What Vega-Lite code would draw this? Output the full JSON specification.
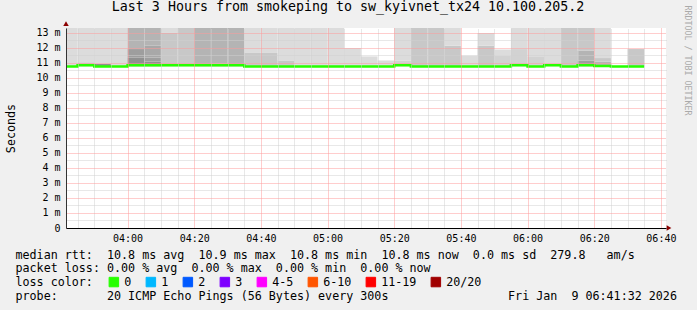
{
  "$schema": "https://vega.github.io/schema/vega-lite/v6.json",
  "width": 600,
  "height": 200,
  "autosize": {"type": "none"},
  "padding": {"left": 66, "top": 28, "right": 31, "bottom": 82},
  "background": "#f0f0f0",
  "title": {
    "text": "Last 3 Hours from smokeping to sw_kyivnet_tx24 10.100.205.2",
    "font": "DejaVu Sans Mono", "fontSize": 13.3, "fontWeight": "normal", "color": "#000000",
    "anchor": "middle", "frame": "group", "dx": -18, "dy": 23, "baseline": "alphabetic", "offset": 4
  },
  "datasets": {
    "smoke": [
      {"s":"2026-01-09T03:40","e":"2026-01-09T03:45","lo":10.78,"hi":13.5,"g":1},
      {"s":"2026-01-09T03:45","e":"2026-01-09T03:50","lo":10.78,"hi":11.05,"g":3},
      {"s":"2026-01-09T03:45","e":"2026-01-09T03:50","lo":11.05,"hi":13.5,"g":1},
      {"s":"2026-01-09T03:50","e":"2026-01-09T03:55","lo":10.78,"hi":10.95,"g":7},
      {"s":"2026-01-09T03:50","e":"2026-01-09T03:55","lo":10.95,"hi":13.5,"g":1},
      {"s":"2026-01-09T03:55","e":"2026-01-09T04:00","lo":10.78,"hi":13.5,"g":1},
      {"s":"2026-01-09T04:00","e":"2026-01-09T04:05","lo":10.78,"hi":11.37,"g":7},
      {"s":"2026-01-09T04:00","e":"2026-01-09T04:05","lo":11.37,"hi":11.93,"g":6},
      {"s":"2026-01-09T04:00","e":"2026-01-09T04:05","lo":11.93,"hi":13.5,"g":4},
      {"s":"2026-01-09T04:05","e":"2026-01-09T04:10","lo":10.78,"hi":11.1,"g":7},
      {"s":"2026-01-09T04:05","e":"2026-01-09T04:10","lo":11.1,"hi":11.37,"g":6},
      {"s":"2026-01-09T04:05","e":"2026-01-09T04:10","lo":11.37,"hi":12.15,"g":5},
      {"s":"2026-01-09T04:05","e":"2026-01-09T04:10","lo":12.15,"hi":13.5,"g":4},
      {"s":"2026-01-09T04:10","e":"2026-01-09T04:15","lo":10.78,"hi":13.04,"g":3},
      {"s":"2026-01-09T04:10","e":"2026-01-09T04:15","lo":13.04,"hi":13.5,"g":1},
      {"s":"2026-01-09T04:15","e":"2026-01-09T04:20","lo":10.78,"hi":13.5,"g":3},
      {"s":"2026-01-09T04:20","e":"2026-01-09T04:25","lo":10.78,"hi":13.5,"g":4},
      {"s":"2026-01-09T04:25","e":"2026-01-09T04:30","lo":10.78,"hi":10.95,"g":5},
      {"s":"2026-01-09T04:25","e":"2026-01-09T04:30","lo":10.95,"hi":13.5,"g":4},
      {"s":"2026-01-09T04:30","e":"2026-01-09T04:35","lo":10.78,"hi":13.5,"g":4},
      {"s":"2026-01-09T04:35","e":"2026-01-09T04:40","lo":10.78,"hi":11.67,"g":3},
      {"s":"2026-01-09T04:35","e":"2026-01-09T04:40","lo":11.67,"hi":13.5,"g":1},
      {"s":"2026-01-09T04:40","e":"2026-01-09T04:45","lo":10.78,"hi":11.67,"g":3},
      {"s":"2026-01-09T04:40","e":"2026-01-09T04:45","lo":11.67,"hi":13.5,"g":1},
      {"s":"2026-01-09T04:45","e":"2026-01-09T04:50","lo":10.78,"hi":11.17,"g":3},
      {"s":"2026-01-09T04:45","e":"2026-01-09T04:50","lo":11.17,"hi":13.5,"g":1},
      {"s":"2026-01-09T04:50","e":"2026-01-09T04:55","lo":10.78,"hi":13.5,"g":1},
      {"s":"2026-01-09T04:55","e":"2026-01-09T05:00","lo":10.78,"hi":13.5,"g":1},
      {"s":"2026-01-09T05:00","e":"2026-01-09T05:05","lo":10.78,"hi":13.5,"g":1},
      {"s":"2026-01-09T05:05","e":"2026-01-09T05:10","lo":10.78,"hi":12.0,"g":1},
      {"s":"2026-01-09T05:10","e":"2026-01-09T05:15","lo":10.78,"hi":11.44,"g":1},
      {"s":"2026-01-09T05:15","e":"2026-01-09T05:20","lo":10.78,"hi":11.17,"g":1},
      {"s":"2026-01-09T05:20","e":"2026-01-09T05:25","lo":10.78,"hi":11.17,"g":2},
      {"s":"2026-01-09T05:20","e":"2026-01-09T05:25","lo":11.17,"hi":13.5,"g":1},
      {"s":"2026-01-09T05:25","e":"2026-01-09T05:30","lo":10.78,"hi":13.5,"g":3},
      {"s":"2026-01-09T05:30","e":"2026-01-09T05:35","lo":10.78,"hi":13.5,"g":3},
      {"s":"2026-01-09T05:35","e":"2026-01-09T05:40","lo":10.78,"hi":12.15,"g":3},
      {"s":"2026-01-09T05:35","e":"2026-01-09T05:40","lo":12.15,"hi":13.5,"g":1},
      {"s":"2026-01-09T05:40","e":"2026-01-09T05:45","lo":10.78,"hi":11.48,"g":1},
      {"s":"2026-01-09T05:45","e":"2026-01-09T05:50","lo":10.78,"hi":12.15,"g":3},
      {"s":"2026-01-09T05:45","e":"2026-01-09T05:50","lo":12.15,"hi":13.0,"g":1},
      {"s":"2026-01-09T05:50","e":"2026-01-09T05:55","lo":10.78,"hi":11.48,"g":2},
      {"s":"2026-01-09T05:50","e":"2026-01-09T05:55","lo":11.48,"hi":11.9,"g":1},
      {"s":"2026-01-09T05:55","e":"2026-01-09T06:00","lo":10.78,"hi":11.93,"g":2},
      {"s":"2026-01-09T05:55","e":"2026-01-09T06:00","lo":11.93,"hi":13.5,"g":1},
      {"s":"2026-01-09T06:00","e":"2026-01-09T06:05","lo":10.78,"hi":11.4,"g":2},
      {"s":"2026-01-09T06:00","e":"2026-01-09T06:05","lo":11.4,"hi":13.5,"g":1},
      {"s":"2026-01-09T06:05","e":"2026-01-09T06:10","lo":10.78,"hi":13.5,"g":1},
      {"s":"2026-01-09T06:10","e":"2026-01-09T06:15","lo":10.78,"hi":13.5,"g":3},
      {"s":"2026-01-09T06:15","e":"2026-01-09T06:20","lo":10.78,"hi":11.17,"g":6},
      {"s":"2026-01-09T06:15","e":"2026-01-09T06:20","lo":11.17,"hi":11.84,"g":4},
      {"s":"2026-01-09T06:15","e":"2026-01-09T06:20","lo":11.84,"hi":13.5,"g":3},
      {"s":"2026-01-09T06:20","e":"2026-01-09T06:25","lo":10.78,"hi":11.1,"g":4},
      {"s":"2026-01-09T06:20","e":"2026-01-09T06:25","lo":11.1,"hi":11.33,"g":3},
      {"s":"2026-01-09T06:20","e":"2026-01-09T06:25","lo":11.33,"hi":13.5,"g":1},
      {"s":"2026-01-09T06:30","e":"2026-01-09T06:35","lo":10.78,"hi":11.93,"g":3}
    ],
    "median": [
      {"s":"2026-01-09T03:40","e":"2026-01-09T03:45","m":10.77,"loss":"0"},
      {"s":"2026-01-09T03:45","e":"2026-01-09T03:50","m":10.85,"loss":"0"},
      {"s":"2026-01-09T03:50","e":"2026-01-09T03:55","m":10.77,"loss":"0"},
      {"s":"2026-01-09T03:55","e":"2026-01-09T04:00","m":10.77,"loss":"0"},
      {"s":"2026-01-09T04:00","e":"2026-01-09T04:05","m":10.85,"loss":"0"},
      {"s":"2026-01-09T04:05","e":"2026-01-09T04:10","m":10.85,"loss":"0"},
      {"s":"2026-01-09T04:10","e":"2026-01-09T04:15","m":10.85,"loss":"0"},
      {"s":"2026-01-09T04:15","e":"2026-01-09T04:20","m":10.85,"loss":"0"},
      {"s":"2026-01-09T04:20","e":"2026-01-09T04:25","m":10.85,"loss":"0"},
      {"s":"2026-01-09T04:25","e":"2026-01-09T04:30","m":10.85,"loss":"0"},
      {"s":"2026-01-09T04:30","e":"2026-01-09T04:35","m":10.85,"loss":"0"},
      {"s":"2026-01-09T04:35","e":"2026-01-09T04:40","m":10.77,"loss":"0"},
      {"s":"2026-01-09T04:40","e":"2026-01-09T04:45","m":10.77,"loss":"0"},
      {"s":"2026-01-09T04:45","e":"2026-01-09T04:50","m":10.77,"loss":"0"},
      {"s":"2026-01-09T04:50","e":"2026-01-09T04:55","m":10.77,"loss":"0"},
      {"s":"2026-01-09T04:55","e":"2026-01-09T05:00","m":10.77,"loss":"0"},
      {"s":"2026-01-09T05:00","e":"2026-01-09T05:05","m":10.77,"loss":"0"},
      {"s":"2026-01-09T05:05","e":"2026-01-09T05:10","m":10.77,"loss":"0"},
      {"s":"2026-01-09T05:10","e":"2026-01-09T05:15","m":10.77,"loss":"0"},
      {"s":"2026-01-09T05:15","e":"2026-01-09T05:20","m":10.77,"loss":"0"},
      {"s":"2026-01-09T05:20","e":"2026-01-09T05:25","m":10.85,"loss":"0"},
      {"s":"2026-01-09T05:25","e":"2026-01-09T05:30","m":10.77,"loss":"0"},
      {"s":"2026-01-09T05:30","e":"2026-01-09T05:35","m":10.77,"loss":"0"},
      {"s":"2026-01-09T05:35","e":"2026-01-09T05:40","m":10.77,"loss":"0"},
      {"s":"2026-01-09T05:40","e":"2026-01-09T05:45","m":10.77,"loss":"0"},
      {"s":"2026-01-09T05:45","e":"2026-01-09T05:50","m":10.77,"loss":"0"},
      {"s":"2026-01-09T05:50","e":"2026-01-09T05:55","m":10.77,"loss":"0"},
      {"s":"2026-01-09T05:55","e":"2026-01-09T06:00","m":10.85,"loss":"0"},
      {"s":"2026-01-09T06:00","e":"2026-01-09T06:05","m":10.77,"loss":"0"},
      {"s":"2026-01-09T06:05","e":"2026-01-09T06:10","m":10.85,"loss":"0"},
      {"s":"2026-01-09T06:10","e":"2026-01-09T06:15","m":10.77,"loss":"0"},
      {"s":"2026-01-09T06:15","e":"2026-01-09T06:20","m":10.85,"loss":"0"},
      {"s":"2026-01-09T06:20","e":"2026-01-09T06:25","m":10.8,"loss":"0"},
      {"s":"2026-01-09T06:25","e":"2026-01-09T06:30","m":10.77,"loss":"0"},
      {"s":"2026-01-09T06:30","e":"2026-01-09T06:35","m":10.77,"loss":"0"}
    ]
  },
  "resolve": {"axis": {"x": "independent", "y": "independent"}},
  "layer": [
    {
      "data": {"name": "smoke"},
      "mark": {"type": "rect", "clip": true},
      "encoding": {
        "x": {
          "field": "s", "type": "temporal",
          "scale": {
            "domain": [
              {"year": 2026, "month": 1, "date": 9, "hours": 3, "minutes": 41, "seconds": 32},
              {"year": 2026, "month": 1, "date": 9, "hours": 6, "minutes": 41, "seconds": 32}
            ],
            "nice": false
          },
          "axis": {
            "orient": "bottom",
            "values": [
              {"year": 2026, "month": 1, "date": 9, "hours": 4, "minutes": 0},
              {"year": 2026, "month": 1, "date": 9, "hours": 4, "minutes": 20},
              {"year": 2026, "month": 1, "date": 9, "hours": 4, "minutes": 40},
              {"year": 2026, "month": 1, "date": 9, "hours": 5, "minutes": 0},
              {"year": 2026, "month": 1, "date": 9, "hours": 5, "minutes": 20},
              {"year": 2026, "month": 1, "date": 9, "hours": 5, "minutes": 40},
              {"year": 2026, "month": 1, "date": 9, "hours": 6, "minutes": 0},
              {"year": 2026, "month": 1, "date": 9, "hours": 6, "minutes": 20},
              {"year": 2026, "month": 1, "date": 9, "hours": 6, "minutes": 40}
            ],
            "format": "%H:%M",
            "grid": true, "gridColor": "#ff9a9a", "gridDash": [1, 1],
            "ticks": false, "labelPadding": 5, "labelFlush": false, "labelOverlap": false,
            "domain": true, "domainColor": "#000000",
            "zindex": 2,
            "title": [
              "median\u00a0rtt:\u00a0\u00a010.8\u00a0ms\u00a0avg\u00a0\u00a010.9\u00a0ms\u00a0max\u00a0\u00a010.8\u00a0ms\u00a0min\u00a0\u00a010.8\u00a0ms\u00a0now\u00a0\u00a00.0\u00a0ms\u00a0sd\u00a0\u00a0279.8\u00a0\u00a0\u00a0am/s",
              "packet\u00a0loss:\u00a00.00\u00a0%\u00a0avg\u00a0\u00a00.00\u00a0%\u00a0max\u00a0\u00a00.00\u00a0%\u00a0min\u00a0\u00a00.00\u00a0%\u00a0now",
              "loss\u00a0color:",
              "probe:\u00a0\u00a0\u00a0\u00a0\u00a0\u00a0\u00a020\u00a0ICMP\u00a0Echo\u00a0Pings\u00a0(56\u00a0Bytes)\u00a0every\u00a0300s\u00a0\u00a0\u00a0\u00a0\u00a0\u00a0\u00a0\u00a0\u00a0\u00a0\u00a0\u00a0\u00a0\u00a0\u00a0\u00a0\u00a0Fri\u00a0Jan\u00a0\u00a09\u00a006:41:32\u00a02026"
            ],
            "titleX": -51, "titleY": 30,
            "titleAnchor": "start", "titleAlign": "left", "titleBaseline": "alphabetic",
            "titleLineHeight": 13.7, "titleFontSize": 11.7, "titleLimit": 2000
          }
        },
        "x2": {"field": "e"},
        "y": {
          "field": "lo", "type": "quantitative",
          "scale": {"domain": [0, 13.3333], "nice": false, "zero": true},
          "axis": {
            "orient": "left",
            "values": [0, 1, 2, 3, 4, 5, 6, 7, 8, 9, 10, 11, 12, 13],
            "labelExpr": "datum.value == 0 ? '0' : datum.value + ' m'",
            "grid": true, "gridColor": "#ff9a9a", "gridDash": [1, 1],
            "ticks": false, "labelPadding": 6,
            "domain": true, "domainColor": "#333333",
            "zindex": 2,
            "title": "Seconds",
            "titleX": -56, "titleY": 100, "titleAngle": 270,
            "titleAlign": "center", "titleBaseline": "middle", "titleFontSize": 11.7
          }
        },
        "y2": {"field": "hi"},
        "fill": {
          "field": "g", "type": "ordinal",
          "scale": {
            "domain": [1, 2, 3, 4, 5, 6, 7],
            "range": ["#dcdcdc", "#d2d2d2", "#c8c8c8", "#b4b4b4", "#a8a8a8", "#9e9e9e", "#909090"]
          },
          "legend": null
        }
      }
    },
    {
      "data": {"name": "median"},
      "transform": [
        {"fold": ["s", "e"], "as": ["k", "tt"]},
        {"calculate": "toDate(datum.tt)", "as": "t"}
      ],
      "mark": {"type": "line", "strokeWidth": 2.5, "clip": true},
      "encoding": {
        "x": {
          "field": "t", "type": "temporal",
          "axis": {
            "orient": "top",
            "values": [
              {"year": 2026, "month": 1, "date": 9, "hours": 3, "minutes": 45},
              {"year": 2026, "month": 1, "date": 9, "hours": 3, "minutes": 50},
              {"year": 2026, "month": 1, "date": 9, "hours": 3, "minutes": 55},
              {"year": 2026, "month": 1, "date": 9, "hours": 4, "minutes": 5},
              {"year": 2026, "month": 1, "date": 9, "hours": 4, "minutes": 10},
              {"year": 2026, "month": 1, "date": 9, "hours": 4, "minutes": 15},
              {"year": 2026, "month": 1, "date": 9, "hours": 4, "minutes": 25},
              {"year": 2026, "month": 1, "date": 9, "hours": 4, "minutes": 30},
              {"year": 2026, "month": 1, "date": 9, "hours": 4, "minutes": 35},
              {"year": 2026, "month": 1, "date": 9, "hours": 4, "minutes": 45},
              {"year": 2026, "month": 1, "date": 9, "hours": 4, "minutes": 50},
              {"year": 2026, "month": 1, "date": 9, "hours": 4, "minutes": 55},
              {"year": 2026, "month": 1, "date": 9, "hours": 5, "minutes": 5},
              {"year": 2026, "month": 1, "date": 9, "hours": 5, "minutes": 10},
              {"year": 2026, "month": 1, "date": 9, "hours": 5, "minutes": 15},
              {"year": 2026, "month": 1, "date": 9, "hours": 5, "minutes": 25},
              {"year": 2026, "month": 1, "date": 9, "hours": 5, "minutes": 30},
              {"year": 2026, "month": 1, "date": 9, "hours": 5, "minutes": 35},
              {"year": 2026, "month": 1, "date": 9, "hours": 5, "minutes": 45},
              {"year": 2026, "month": 1, "date": 9, "hours": 5, "minutes": 50},
              {"year": 2026, "month": 1, "date": 9, "hours": 5, "minutes": 55},
              {"year": 2026, "month": 1, "date": 9, "hours": 6, "minutes": 5},
              {"year": 2026, "month": 1, "date": 9, "hours": 6, "minutes": 10},
              {"year": 2026, "month": 1, "date": 9, "hours": 6, "minutes": 15},
              {"year": 2026, "month": 1, "date": 9, "hours": 6, "minutes": 25},
              {"year": 2026, "month": 1, "date": 9, "hours": 6, "minutes": 30},
              {"year": 2026, "month": 1, "date": 9, "hours": 6, "minutes": 35}
            ],
            "grid": true, "gridColor": "#d0d0d0", "gridDash": [1, 1],
            "labels": false, "ticks": false, "domain": false, "title": null,
            "zindex": 1
          }
        },
        "y": {
          "field": "m", "type": "quantitative",
          "axis": {
            "orient": "right",
            "values": [0.5, 1.5, 2.5, 3.5, 4.5, 5.5, 6.5, 7.5, 8.5, 9.5, 10.5, 11.5, 12.5],
            "grid": true, "gridColor": "#d0d0d0", "gridDash": [1, 1],
            "labels": false, "ticks": false, "domain": false,
            "zindex": 1,
            "title": "RRDTOOL / TOBI OETIKER",
            "titleAngle": 90, "titleX": 20.5, "titleY": 32,
            "titleAlign": "center", "titleBaseline": "middle",
            "titleFontSize": 8.3, "titleColor": "#aaaaaa"
          }
        },
        "order": {"field": "t", "type": "temporal"},
        "color": {
          "field": "loss", "type": "nominal",
          "scale": {
            "domain": ["0", "1", "2", "3", "4-5", "6-10", "11-19", "20/20"],
            "range": ["#26ff00", "#00b8ff", "#0059ff", "#7e00ff", "#ff00ff", "#ff5500", "#ff0000", "#a10000"]
          },
          "legend": {
            "orient": "none", "legendX": 42, "legendY": 248,
            "direction": "horizontal", "title": null, "padding": 0,
            "symbolType": "square", "symbolSize": 90, "symbolStrokeWidth": 1,
            "symbolStrokeColor": "#000000", "symbolOpacity": 1,
            "labelFont": "DejaVu Sans Mono", "labelFontSize": 11.7, "labelColor": "#000000",
            "labelOffset": 4.5, "columnPadding": 12, "labelLimit": 200,
            "encoding": {
              "symbols": {
                "fill": {"value": {"expr": "scale('color', datum.value)"}},
                "stroke": {"value": "#000000"},
                "fillOpacity": {"value": 1}
              }
            }
          }
        }
      }
    },
    {
      "data": {"values": [{"axis": "y"}]},
      "mark": {"type": "point", "shape": "triangle-up", "filled": true, "color": "#8b0000", "size": 30, "opacity": 1},
      "encoding": {
        "x": {"datum": {"year": 2026, "month": 1, "date": 9, "hours": 3, "minutes": 41, "seconds": 32}, "type": "temporal", "axis": null},
        "y": {"datum": 13.62, "type": "quantitative", "axis": null}
      }
    },
    {
      "data": {"values": [{"axis": "x"}]},
      "mark": {"type": "point", "shape": "triangle-right", "filled": true, "color": "#8b0000", "size": 30, "opacity": 1},
      "encoding": {
        "x": {"datum": {"year": 2026, "month": 1, "date": 9, "hours": 6, "minutes": 42, "seconds": 26}, "type": "temporal", "axis": null},
        "y": {"datum": 0, "type": "quantitative", "axis": null}
      }
    }
  ],
  "config": {
    "font": "DejaVu Sans Mono",
    "view": {"stroke": null, "fill": "#ffffff"},
    "axis": {
      "labelFont": "DejaVu Sans Mono", "labelFontSize": 10, "labelColor": "#000000",
      "titleFont": "DejaVu Sans Mono", "titleFontWeight": "normal", "titleColor": "#000000",
      "gridOpacity": 1
    }
  }
}
